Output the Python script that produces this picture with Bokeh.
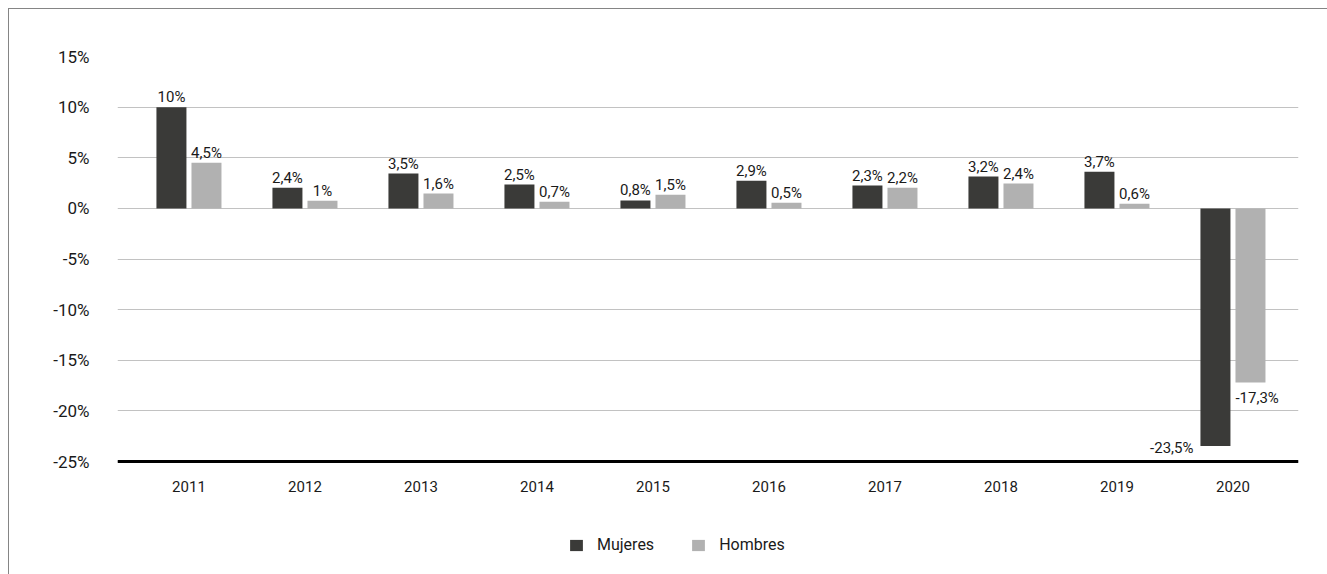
from bokeh.plotting import figure
from bokeh.models import ColumnDataSource, FixedTicker, PrintfTickFormatter, Legend, LegendItem, Range1d, Span
from bokeh.transform import dodge
from bokeh.embed import file_html
from bokeh.resources import INLINE
from bokeh.core.properties import value

# ---- data ----
years = ["2011", "2012", "2013", "2014", "2015", "2016", "2017", "2018", "2019", "2020"]
mujeres = [10.0, 2.05, 3.44, 2.35, 0.79, 2.74, 2.25, 3.14, 3.63, -23.47]
hombres = [4.52, 0.76, 1.46, 0.66, 1.36, 0.56, 2.05, 2.45, 0.46, -17.2]
mujeres_labels = ["10%", "2,4%", "3,5%", "2,5%", "0,8%", "2,9%", "2,3%", "3,2%", "3,7%", "-23,5%"]
hombres_labels = ["4,5%", "1%", "1,6%", "0,7%", "1,5%", "0,5%", "2,2%", "2,4%", "0,6%", "-17,3%"]
y_ticks = [-25, -20, -15, -10, -5, 0, 5, 10, 15]

DARK = "#3a3a38"
LIGHT = "#b1b1b1"
TXT = "#1a1a1a"
FONT = "Roboto"

idx = list(range(len(years)))
OFF = 0.151
BW = 0.2586
AXIS_Y = y_ticks[0]

src = ColumnDataSource(dict(x=idx, m=mujeres, h=hombres, year=years))

p = figure(width=1319, height=566, output_backend="svg", toolbar_location=None,
           x_range=Range1d(-0.616, 9.565), y_range=Range1d(-36.25, 15),
           min_border_left=108, min_border_right=30, min_border_top=47, min_border_bottom=0,
           styles={"margin-left": "8px", "margin-top": "8px",
                   "border-left": "1px solid #858585", "border-top": "1px solid #858585"})
p.outline_line_color = None
p.background_fill_color = "white"
p.border_fill_color = "white"

rm = p.vbar(x=dodge("x", -OFF, range=p.x_range), top="m", bottom=0, width=BW, source=src,
            fill_color=DARK, line_color=None)
rh = p.vbar(x=dodge("x", OFF, range=p.x_range), top="h", bottom=0, width=BW, source=src,
            fill_color=LIGHT, line_color=None)

# value labels
def split_rows(vals, labels, off):
    pos = dict(x=[], y=[], t=[])
    neg = dict(x=[], y=[], t=[])
    for i, (v, t) in enumerate(zip(vals, labels)):
        d = pos if v >= 0 else neg
        d["x"].append(i + off)
        d["y"].append(v)
        d["t"].append(t)
    return pos, neg

LBL = dict(text_font=value(FONT), text_font_size="15px", text_color=TXT)
for vals, labels, off, mode in [(mujeres, mujeres_labels, -OFF, "left"), (hombres, hombres_labels, OFF, "below")]:
    pos, neg = split_rows(vals, labels, off)
    p.text(x="x", y="y", text="t", source=ColumnDataSource(pos), text_align="center",
           text_baseline="bottom", y_offset=-1, **LBL)
    nx = [x - BW / 2 for x in neg["x"]]
    if mode == "left":
        p.text(x=nx, y=neg["y"], text=neg["t"], text_align="right",
               text_baseline="alphabetic", x_offset=-7, y_offset=2, **LBL)
    else:
        p.text(x=nx, y=neg["y"], text=neg["t"], text_align="left",
               text_baseline="top", x_offset=0, y_offset=6, **LBL)

# category axis line and labels at the -25% baseline
p.add_layout(Span(location=AXIS_Y, dimension="width", line_color="black", line_width=3))
p.text(x="x", y=AXIS_Y, text="year", source=src, text_align="center", text_baseline="top",
       y_offset=19, text_font=value(FONT), text_font_size="15px", text_color=TXT)

p.xaxis.visible = False
p.xgrid.grid_line_color = None

p.yaxis.ticker = FixedTicker(ticks=y_ticks)
p.yaxis.formatter = PrintfTickFormatter(format="%d%%")
p.yaxis.axis_line_color = None
p.yaxis.major_tick_line_color = None
p.yaxis.minor_tick_line_color = None
p.yaxis.major_label_standoff = 22
p.yaxis.major_label_text_font = FONT
p.yaxis.major_label_text_font_size = "17px"
p.yaxis.major_label_text_color = TXT

p.ygrid.grid_line_color = "#c2c2c2"
p.ygrid.grid_line_width = 1

legend = Legend(items=[LegendItem(label="Mujeres", renderers=[rm]),
                       LegendItem(label="Hombres", renderers=[rh])],
                orientation="horizontal", location=(451, 21), glyph_width=16, glyph_height=14,
                label_standoff=13, spacing=36, padding=0, margin=0,
                label_text_font=FONT, label_text_font_size="16px", label_text_color=TXT,
                border_line_color=None, background_fill_alpha=0)
p.add_layout(legend, "center")

open("out.html", "w").write(file_html(p, INLINE))
